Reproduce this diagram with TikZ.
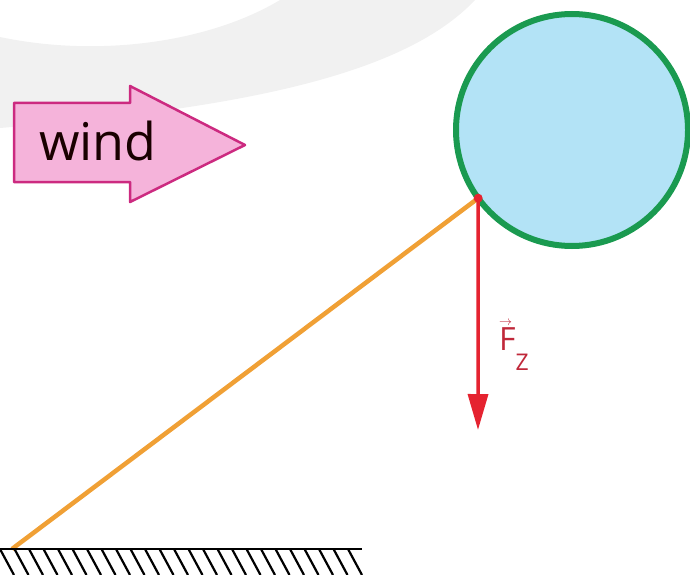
\documentclass[tikz,border=0pt]{standalone}
\usepackage{fontspec}
\setmainfont{Open Sans}
\usetikzlibrary{arrows.meta,positioning}
\definecolor{haze}{HTML}{F1F1F1}
\definecolor{windfill}{HTML}{F5B3DA}
\definecolor{winddraw}{HTML}{CC2A80}
\definecolor{balloonblue}{HTML}{B3E3F6}
\definecolor{balloongreen}{HTML}{1A9A50}
\definecolor{ropeorange}{HTML}{F0A035}
\definecolor{forcered}{HTML}{E52330}
\definecolor{labelred}{HTML}{C0283A}
\begin{document}
\begin{tikzpicture}[x=1pt,y=-1pt,>=Latex,
  balloon/.style={circle,draw=balloongreen,line width=6pt,fill=balloonblue,minimum size=232pt,inner sep=0pt,outer sep=0pt},
  rope/.style={draw=ropeorange,line width=4.5pt},
  force/.style={draw=forcered,line width=3.5pt,-{Triangle[length=36pt,width=20pt]}},
  hatch/.style={line width=2.2pt}]
\useasboundingbox (0,0) rectangle (690,575);
\fill[haze] (0,37) .. controls (100,58) and (210,42) .. (280,0) -- (475,0) .. controls (400,80) and (220,110) .. (0,128) -- cycle;
\draw[fill=windfill,draw=winddraw,line width=2.5pt,line join=round] (14,103) -- (130,103) -- (130,86) -- (245,145) -- (130,202) -- (130,182) -- (14,182) -- cycle;
\node[font=\fontsize{52}{52}\selectfont,anchor=base west,inner sep=0pt,text=black!90!red] (windlabel) at (39,160) {wind};
\node[balloon] (balloon) at (572,130) {};
\coordinate (knot) at (balloon.216.7);
\coordinate (peg) at (12,549);
\coordinate (tip) at (478,430);
\draw[rope] (peg) -- (knot);
\draw[force] (knot) -- (tip);
\fill[forcered] (knot) circle (4.5);
\node[font=\fontsize{32}{32}\selectfont,anchor=base west,inner sep=0pt,text=labelred] (fzlabel) at (499,350) {\rlap{\raisebox{25pt}{\resizebox{13pt}{!}{$\rightarrow$}}}F\raisebox{-20pt}{\fontsize{23}{23}\selectfont Z}};
\draw[line width=2.5pt] (0,549) coordinate (groundleft) -- (362,549) coordinate (groundright);
\foreach \x in {0,14.5,...,348} \draw[hatch] (\x,549) -- ++(14,26);
\end{tikzpicture}
\end{document}
